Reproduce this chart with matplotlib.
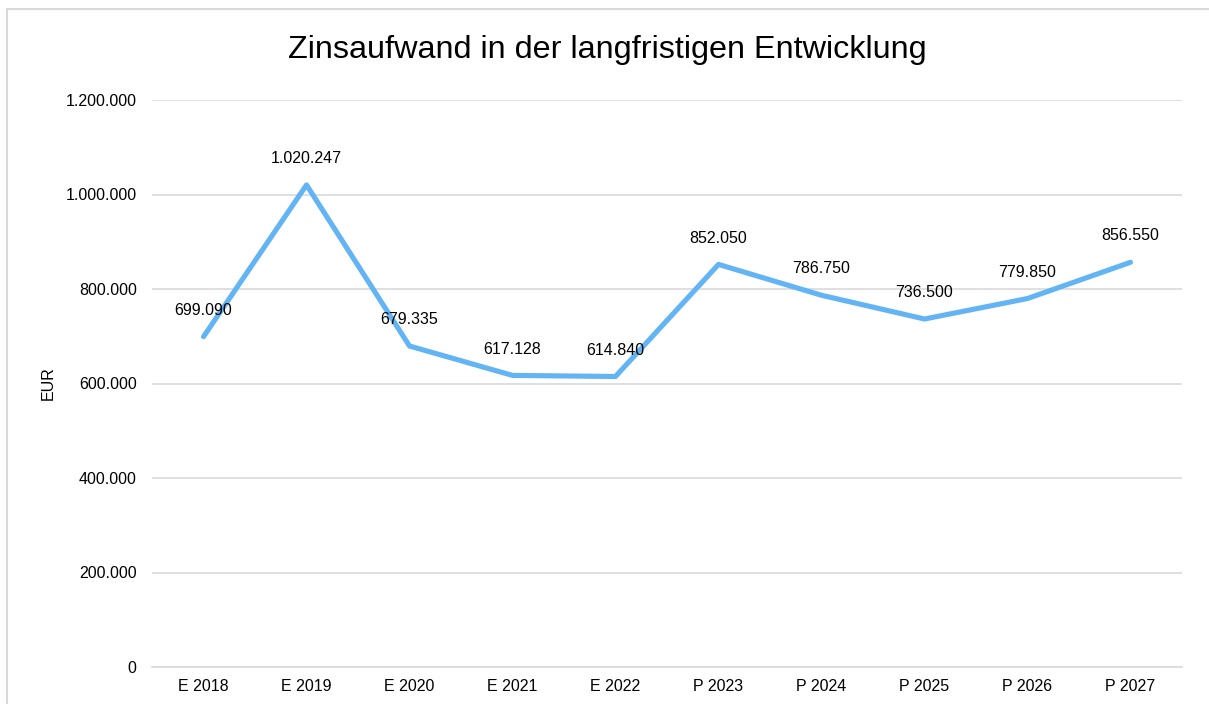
import matplotlib.pyplot as plt
from matplotlib.patches import Rectangle
from matplotlib.ticker import FuncFormatter

plt.rcParams['font.family'] = ['Liberation Sans', 'DejaVu Sans']

# Data
years = ["E 2018", "E 2019", "E 2020", "E 2021", "E 2022",
         "P 2023", "P 2024", "P 2025", "P 2026", "P 2027"]
zinsaufwand = [699090, 1020247, 679335, 617128, 614840,
               852050, 786750, 736500, 779850, 856550]
y_ticks = [0, 200000, 400000, 600000, 800000, 1000000, 1200000]


def de_fmt(v, pos=None):
    return f"{int(v):,}".replace(",", ".")


fs = 11.5

fig = plt.figure(figsize=(12.09, 7.04), dpi=100)
# chart frame (left and top edge visible like the reference)
fig.patches.append(Rectangle((7 / 1209, -0.1), 1.2, 1 - 9 / 704 + 0.1,
                             transform=fig.transFigure, fill=False,
                             edgecolor="#D9D9D9", linewidth=1.5))

ax = fig.add_axes([152 / 1209, 1 - 667 / 704, (1182 - 152) / 1209, (667 - 100) / 704])
x = range(len(years))
ax.plot(x, zinsaufwand, color="#63B4F5", linewidth=3.7,
        solid_joinstyle="round", solid_capstyle="round", zorder=3)

for xi, v in zip(x, zinsaufwand):
    ax.annotate(de_fmt(v), (xi, v), xytext=(0, 19), textcoords="offset points",
                ha="center", va="center", fontsize=fs, color="#000000", zorder=4)

ax.set_xlim(-0.5, len(years) - 0.5)
ax.set_ylim(0, 1200000)
ax.set_yticks(y_ticks)
ax.yaxis.set_major_formatter(FuncFormatter(de_fmt))
ax.set_xticks(list(x))
ax.set_xticklabels(years)
ax.tick_params(axis="both", length=0, labelsize=fs, labelcolor="#000000")
ax.tick_params(axis="y", pad=11)
ax.tick_params(axis="x", pad=8.5)
ax.grid(axis="y", color="#D9D9D9", linewidth=1.2)
ax.set_axisbelow(True)
for side in ["left", "right", "top"]:
    ax.spines[side].set_visible(False)
ax.spines["bottom"].set_color("#D9D9D9")
ax.spines["bottom"].set_linewidth(1.2)

fig.text(48 / 1209, 1 - 383 / 704, "EUR", rotation=90, ha="center", va="center",
         fontsize=fs, color="#000000")
fig.text(607 / 1209, 1 - 50 / 704, "Zinsaufwand in der langfristigen Entwicklung",
         ha="center", va="center", fontsize=23.3, color="#000000")

fig.savefig("out.png", dpi=100)
